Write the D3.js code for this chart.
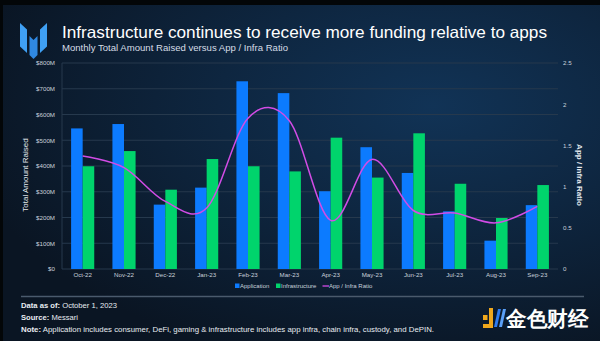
<!DOCTYPE html>
<html>
<head>
<meta charset="utf-8">
<script src="https://cdn.jsdelivr.net/npm/d3@7"></script>
<style>
  html, body { margin: 0; padding: 0; background: #000; }
  svg { display: block; }
  text { font-family: "Liberation Sans", Arial, sans-serif; }
</style>
</head>
<body>
<svg id="chart" width="600" height="341"></svg>
<script>
// Monthly funding (USD millions) and application / infrastructure ratio
const months = ["Oct-22","Nov-22","Dec-22","Jan-23","Feb-23","Mar-23","Apr-23","May-23","Jun-23","Jul-23","Aug-23","Sep-23"];
const application = [546, 563, 250, 316, 729, 683, 302, 473, 373, 224, 110, 248];
const infrastructure = [399, 458, 308, 427, 399, 379, 510, 355, 527, 331, 198, 326];
const ratio = [1.37, 1.23, 0.82, 0.74, 1.83, 1.80, 0.59, 1.33, 0.71, 0.68, 0.56, 0.76];
const leftTicks = [0, 100, 200, 300, 400, 500, 600, 700, 800];
const leftTickLabels = ["$0","$100M","$200M","$300M","$400M","$500M","$600M","$700M","$800M"];
const rightTicks = [0, 0.5, 1, 1.5, 2, 2.5];
const rightTickLabels = ["0","0.5","1","1.5","2","2.5"];
const seriesNames = ["Application", "Infrastructure", "App / Infra Ratio"];

const colors = { app: "#0c7bff", infra: "#00d46c", ratio: "#d24ce6" };

const svg = d3.select("#chart");
const W = 600, H = 341;
const plot = { left: 62, right: 558, top: 63, bottom: 269 };

// Background panel
const defs = svg.append("defs");
const bg = defs.append("radialGradient").attr("id", "bg")
  .attr("cx", "72%").attr("cy", "30%").attr("r", "80%");
bg.append("stop").attr("offset", "0%").attr("stop-color", "#113356");
bg.append("stop").attr("offset", "45%").attr("stop-color", "#0e2640");
bg.append("stop").attr("offset", "100%").attr("stop-color", "#0a1523");

svg.append("rect").attr("width", W).attr("height", H).attr("fill", "#030608");
svg.append("rect").attr("x", 3).attr("y", 5).attr("width", W - 3).attr("height", H - 5).attr("fill", "url(#bg)");

// Brand mark: three slanted blades
const logo = svg.append("g");
[
  { pts: [[20, 23], [27, 29.5], [27, 53], [20, 46.5]], fill: "#3fa0f4" },
  { pts: [[29.5, 36], [33.5, 40], [37.5, 36], [37.5, 55], [33.5, 59], [29.5, 55]], fill: "#2f88e2" },
  { pts: [[40, 29.5], [47, 23], [47, 46.5], [40, 53]], fill: "#3fa0f4" }
].forEach(s => {
  logo.append("polygon").attr("points", s.pts.map(p => p.join(",")).join(" ")).attr("fill", s.fill);
});

// Title and subtitle
svg.append("text").attr("x", 62).attr("y", 37.5)
  .attr("font-size", 16.5).attr("fill", "#ffffff")
  .attr("textLength", 485).attr("lengthAdjust", "spacingAndGlyphs")
  .text("Infrastructure continues to receive more funding relative to apps");
svg.append("text").attr("x", 62).attr("y", 51)
  .attr("font-size", 9).attr("fill", "#d6dde6")
  .attr("textLength", 226).attr("lengthAdjust", "spacingAndGlyphs")
  .text("Monthly Total Amount Raised versus App / Infra Ratio");

// Scales
const x = d3.scaleBand().domain(months).range([plot.left, plot.right])
  .paddingInner(0.44).paddingOuter(0.22);
const xSub = d3.scaleBand().domain(["app", "infra"]).range([0, x.bandwidth()]);
const y = d3.scaleLinear().domain([0, 800]).range([plot.bottom, plot.top]);
const yR = d3.scaleLinear().domain([0, 2.5]).range([plot.bottom, plot.top]);

// Gridlines
const grid = svg.append("g");
grid.selectAll("line").data(leftTicks).join("line")
  .attr("x1", plot.left).attr("x2", plot.right)
  .attr("y1", d => y(d)).attr("y2", d => y(d))
  .attr("stroke", "#26394d").attr("stroke-width", 1);
grid.append("line").attr("x1", plot.left).attr("x2", plot.left)
  .attr("y1", plot.top).attr("y2", plot.bottom)
  .attr("stroke", "#26394d").attr("stroke-width", 1);

// Left axis
const leftAxis = svg.append("g").attr("transform", `translate(${plot.left - 7},0)`)
  .call(d3.axisLeft(y).tickValues(leftTicks).tickSize(0)
    .tickFormat((d, i) => leftTickLabels[i]));
leftAxis.select(".domain").remove();
leftAxis.selectAll("text").attr("font-size", 6.2).attr("fill", "#c9d1db")
  .attr("font-family", "'Liberation Sans', Arial, sans-serif").attr("x", 0);

// Right axis
const rightAxis = svg.append("g").attr("transform", `translate(${plot.right + 5},0)`)
  .call(d3.axisRight(yR).tickValues(rightTicks).tickSize(0)
    .tickFormat((d, i) => rightTickLabels[i]));
rightAxis.select(".domain").remove();
rightAxis.selectAll("text").attr("font-size", 6.2).attr("fill", "#c9d1db")
  .attr("font-family", "'Liberation Sans', Arial, sans-serif").attr("x", 0);

// Bottom axis
const bottomAxis = svg.append("g").attr("transform", `translate(0,${plot.bottom + 4})`)
  .call(d3.axisBottom(x).tickSize(0));
bottomAxis.select(".domain").remove();
bottomAxis.selectAll("text").attr("font-size", 6.2).attr("fill", "#c9d1db")
  .attr("font-family", "'Liberation Sans', Arial, sans-serif").attr("dy", "0.71em").attr("y", 0);

// Axis titles
svg.append("text").attr("transform", "translate(28,175) rotate(-90)")
  .attr("text-anchor", "middle").attr("font-size", 8).attr("fill", "#e4e9ef")
  .text("Total Amount Raised");
svg.append("text").attr("transform", "translate(577,175) rotate(90)")
  .attr("text-anchor", "middle").attr("font-size", 8).attr("fill", "#e4e9ef")
  .attr("font-weight", "bold")
  .text("App / Infra Ratio");

// Bars
const groups = svg.append("g").selectAll("g").data(months).join("g")
  .attr("transform", d => `translate(${x(d)},0)`);
groups.append("rect")
  .attr("x", xSub("app")).attr("width", xSub.bandwidth())
  .attr("y", (d, i) => y(application[i]))
  .attr("height", (d, i) => y(0) - y(application[i]))
  .attr("fill", colors.app);
groups.append("rect")
  .attr("x", xSub("infra")).attr("width", xSub.bandwidth())
  .attr("y", (d, i) => y(infrastructure[i]))
  .attr("height", (d, i) => y(0) - y(infrastructure[i]))
  .attr("fill", colors.infra);

// Ratio line (smoothed)
const line = d3.line()
  .x((d, i) => x(months[i]) + x.bandwidth() / 2)
  .y(d => yR(d))
  .curve(d3.curveCardinal.tension(0));
svg.append("path").datum(ratio).attr("d", line)
  .attr("fill", "none").attr("stroke", colors.ratio).attr("stroke-width", 1.5);

// Legend
const legend = svg.append("g").attr("transform", "translate(0,286)");
const legendItems = [
  { name: seriesNames[0], color: colors.app, type: "rect", x: 235 },
  { name: seriesNames[1], color: colors.infra, type: "rect", x: 276 },
  { name: seriesNames[2], color: colors.ratio, type: "line", x: 322.5 }
];
legendItems.forEach(it => {
  if (it.type === "rect") {
    legend.append("rect").attr("x", it.x).attr("y", -2.5).attr("width", 4.5).attr("height", 4.5).attr("fill", it.color);
  } else {
    legend.append("line").attr("x1", it.x).attr("x2", it.x + 6.5).attr("y1", 0).attr("y2", 0)
      .attr("stroke", it.color).attr("stroke-width", 1.3);
  }
  legend.append("text").attr("x", it.x + (it.type === "rect" ? 5 : 6.5)).attr("y", 2.2)
    .attr("font-size", 6).attr("fill", "#c9d1db").text(it.name);
});

// Separator
svg.append("line").attr("x1", 21).attr("x2", 584).attr("y1", 296.5).attr("y2", 296.5)
  .attr("stroke", "#4a5a6c").attr("stroke-width", 1.3);

// Footer notes
const foot = [
  { bold: "Data as of:", rest: " October 1, 2023", y: 308, len: 96 },
  { bold: "Source:", rest: " Messari", y: 320, len: 57 },
  { bold: "Note:", rest: " Application includes consumer, DeFi, gaming & infrastructure includes app infra, chain infra, custody, and DePIN.", y: 332, len: 413 }
];
foot.forEach(f => {
  const t = svg.append("text").attr("x", 21).attr("y", f.y).attr("font-size", 7.4).attr("fill", "#e8ecf1")
    .attr("textLength", f.len).attr("lengthAdjust", "spacingAndGlyphs");
  t.append("tspan").attr("font-weight", "bold").text(f.bold);
  t.append("tspan").text(f.rest);
});

// Publisher mark
const wm = svg.append("g");
wm.append("rect").attr("x", 483).attr("y", 315).attr("width", 4.5).attr("height", 5).attr("fill", "#f0a81c");
wm.append("path").attr("d", "M489,308 L493,308 L493,328 L483,328 L483,324 L489,324 Z").attr("fill", "#f0a81c");
wm.append("path").attr("d", "M498,309 L501,309 L497,327 L494,327 Z").attr("fill", "#2e7bf0");
wm.append("path").attr("d", "M503,309 L506,309 L502,327 L499,327 Z").attr("fill", "#5aa0f7");
wm.append("text").attr("x", 506).attr("y", 326).attr("font-size", 21)
  .attr("font-family", "'Noto Sans CJK SC', sans-serif").attr("font-weight", "bold")
  .attr("fill", "#ffffff").attr("textLength", 82).attr("lengthAdjust", "spacingAndGlyphs")
  .text("金色财经");
</script>
</body>
</html>
